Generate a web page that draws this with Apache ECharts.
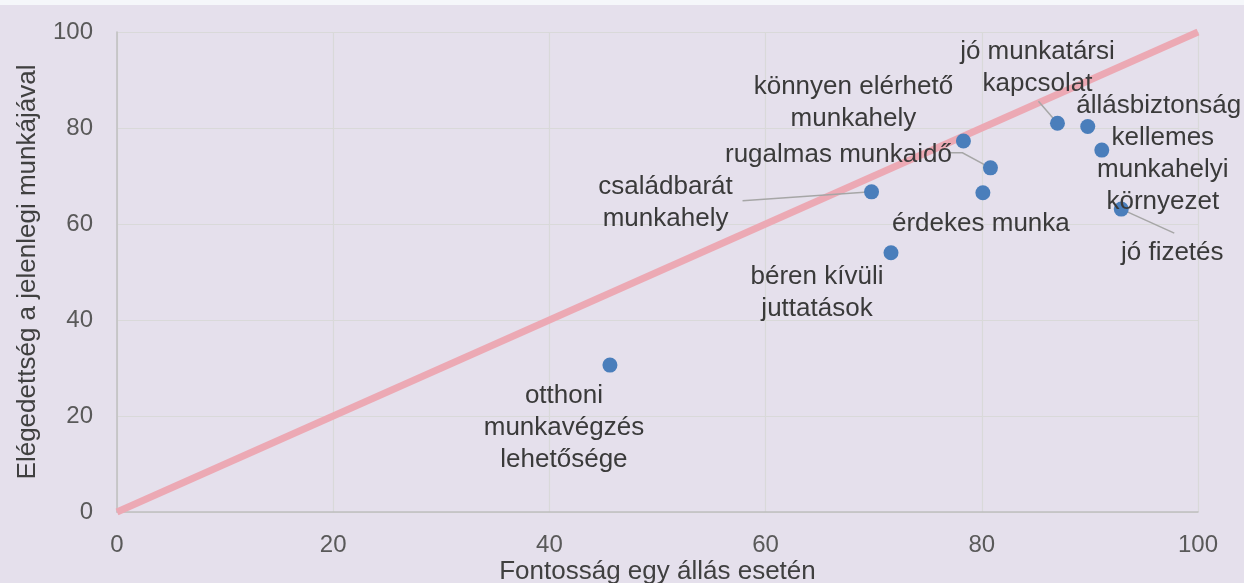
<!DOCTYPE html>
<html>
<head>
<meta charset="utf-8">
<script src="https://cdn.jsdelivr.net/npm/echarts@6/dist/echarts.min.js"></script>
<style>
html,body{margin:0;padding:0;background:#f5f7fa;}
#chart{width:1244px;height:578px;margin-top:5px;background:#e5e0ec;}
</style>
</head>
<body>
<div id="chart"></div>
<script>
// Data
const names = [
  'otthoni\nmunkavégzés\nlehetősége',
  'béren kívüli\njuttatások',
  'családbarát\nmunkahely',
  'könnyen elérhető\nmunkahely',
  'rugalmas munkaidő',
  'érdekes munka',
  'jó munkatársi\nkapcsolat',
  'állásbiztonság',
  'kellemes\nmunkahelyi\nkörnyezet',
  'jó fizetés'
];
const importance = [45.6, 71.6, 69.8, 78.3, 80.8, 80.1, 87.0, 89.8, 91.1, 92.9];
const satisfaction = [30.6, 54.0, 66.7, 77.3, 71.7, 66.5, 81.0, 80.3, 75.4, 63.1];
const diagonal = [[0, 0], [100, 100]];
const axisTicks = [0, 20, 40, 60, 80, 100];

// Label layout (pixel offsets from point to label centre)
const labelOffsets = [[-46, 63], [-74, 40], [-206, 11], [-110, -38], [-152, -13], [-2, 31], [-20, -55], [71, -21], [61, 20], [51, 44]];
// Leader line bends (pixel offsets from the point), keyed by point index
const leaderPaths = {
  2: [[-129, 9]],
  4: [[-28, -15], [-40, -15]],
  6: [[-19, -22]],
  9: [[53, 24]]
};

const font = 'Liberation Sans, Arial, sans-serif';
const points = names.map((n, i) => ({ name: n, value: [importance[i], satisfaction[i]] }));
const leaderData = Object.keys(leaderPaths).map(k => [importance[+k], satisfaction[+k], +k]);

const chart = echarts.init(document.getElementById('chart'));
chart.setOption({
  animation: false,
  grid: { left: 117, right: 46, top: 27, bottom: 71, outerBoundsMode: 'none', containLabel: false },
  xAxis: {
    type: 'value', min: axisTicks[0], max: axisTicks[axisTicks.length - 1], interval: 20,
    name: 'Fontosság egy állás esetén', nameLocation: 'middle', nameGap: 47, nameMoveOverlap: false,
    nameTextStyle: { fontFamily: font, fontSize: 26, color: '#404040' },
    axisLine: { show: true, lineStyle: { color: '#bfbfbf', width: 1.5 } },
    axisTick: { show: false },
    axisLabel: { fontFamily: font, fontSize: 24, color: '#595959', margin: 21 },
    splitLine: { show: true, lineStyle: { color: '#d9d9d9', width: 1.2 } }
  },
  yAxis: {
    type: 'value', min: axisTicks[0], max: axisTicks[axisTicks.length - 1], interval: 20,
    name: 'Elégedettség a jelenlegi munkájával', nameLocation: 'middle', nameGap: 76, nameMoveOverlap: false,
    nameTextStyle: { fontFamily: font, fontSize: 26, color: '#404040' },
    axisLine: { show: true, lineStyle: { color: '#bfbfbf', width: 1.5 } },
    axisTick: { show: false },
    axisLabel: { fontFamily: font, fontSize: 24, color: '#595959', margin: 24 },
    splitLine: { show: true, lineStyle: { color: '#d9d9d9', width: 1.2 } }
  },
  series: [
    {
      type: 'line',
      data: diagonal,
      symbol: 'none',
      lineStyle: { color: '#eca9b4', width: 7 },
      z: 2,
      silent: true
    },
    {
      type: 'custom',
      data: leaderData,
      z: 3,
      silent: true,
      renderItem: function (params, api) {
        const c = api.coord([api.value(0), api.value(1)]);
        const path = leaderPaths[api.value(2)];
        const pts = [c].concat(path.map(p => [c[0] + p[0], c[1] + p[1]]));
        return {
          type: 'polyline',
          shape: { points: pts },
          style: { stroke: '#a6a6a6', lineWidth: 1.5, fill: null }
        };
      }
    },
    {
      type: 'scatter',
      data: points,
      symbolSize: 15,
      itemStyle: { color: '#4a7ebb', opacity: 1 },
      z: 4,
      label: {
        show: true,
        position: 'inside',
        formatter: '{b}',
        fontFamily: font,
        fontSize: 26,
        lineHeight: 32,
        color: '#3a3a3a',
        align: 'center',
        verticalAlign: 'middle'
      },
      labelLayout: function (p) {
        const o = labelOffsets[p.dataIndex];
        return { dx: o[0], dy: o[1] };
      }
    }
  ]
});
</script>
</body>
</html>
